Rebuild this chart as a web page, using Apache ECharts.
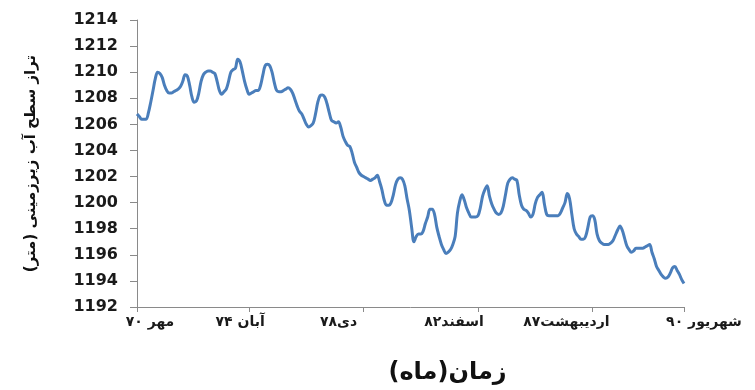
<!DOCTYPE html>
<html>
<head>
<meta charset="utf-8">
<script src="https://cdn.jsdelivr.net/npm/echarts@6/dist/echarts.min.js"></script>
<style>
  html, body { margin: 0; padding: 0; background: #ffffff; }
  #chart { width: 755px; height: 390px; }
</style>
</head>
<body>
<div id="chart"></div>
<script>
// Monthly groundwater level (m a.s.l.), from مهر ۷۰ to شهریور ۹۰ (240 months)
const level = [
  1206.8, 1206.6, 1206.4, 1206.4, 1206.4, 1206.9, 1207.7, 1208.6, 1209.5, 1210.0, 1209.9, 1209.6,
  1209.0, 1208.6, 1208.4, 1208.4, 1208.5, 1208.6, 1208.7, 1208.9, 1209.3, 1209.8, 1209.7, 1209.0,
  1208.1, 1207.7, 1207.8, 1208.4, 1209.3, 1209.8, 1210.0, 1210.1, 1210.1, 1210.0, 1209.9, 1209.3,
  1208.6, 1208.3, 1208.5, 1208.7, 1209.3, 1210.0, 1210.2, 1210.3, 1211.0, 1210.8, 1210.1, 1209.3,
  1208.7, 1208.3, 1208.4, 1208.5, 1208.6, 1208.6, 1209.0, 1209.8, 1210.5, 1210.6, 1210.5, 1210.0,
  1209.2, 1208.6, 1208.5, 1208.5, 1208.6, 1208.7, 1208.8, 1208.7, 1208.4, 1207.9, 1207.4, 1207.0,
  1206.8, 1206.4, 1206.0, 1205.8, 1205.9, 1206.1, 1206.8, 1207.7, 1208.2, 1208.25, 1208.1, 1207.6,
  1206.9, 1206.3, 1206.2, 1206.1, 1206.2, 1205.8, 1205.1, 1204.7, 1204.4, 1204.3, 1203.8, 1203.1,
  1202.7, 1202.3, 1202.1, 1202.0, 1201.9, 1201.8, 1201.7, 1201.8, 1201.9, 1202.1, 1201.6, 1201.0,
  1200.2, 1199.8, 1199.8, 1200.0, 1200.6, 1201.4, 1201.8, 1201.9, 1201.8, 1201.3, 1200.3, 1199.4,
  1198.1, 1197.0, 1197.4, 1197.6, 1197.6, 1197.8, 1198.4, 1198.9, 1199.5, 1199.5, 1199.1, 1198.1,
  1197.4, 1196.8, 1196.4, 1196.1, 1196.2, 1196.4, 1196.8, 1197.4, 1199.2, 1200.1, 1200.6, 1200.2,
  1199.6, 1199.2, 1198.9, 1198.9, 1198.9, 1199.0, 1199.6, 1200.5, 1201.0, 1201.3, 1200.5, 1199.9,
  1199.5, 1199.2, 1199.1, 1199.2, 1199.7, 1200.6, 1201.5, 1201.8, 1201.9, 1201.8, 1201.7, 1200.6,
  1199.8, 1199.5, 1199.4, 1199.2, 1198.9, 1199.1, 1199.9, 1200.4, 1200.6, 1200.8, 1199.9, 1199.1,
  1199.0, 1199.0, 1199.0, 1199.0, 1199.0, 1199.2, 1199.6, 1200.0, 1200.7, 1200.3, 1199.1, 1198.0,
  1197.6, 1197.4, 1197.2, 1197.2, 1197.4, 1198.1, 1198.9, 1199.0, 1198.7, 1197.6, 1197.1, 1196.9,
  1196.8, 1196.8, 1196.8, 1196.9, 1197.1, 1197.5, 1197.9, 1198.2, 1197.9, 1197.3, 1196.7, 1196.4,
  1196.2, 1196.3, 1196.5, 1196.5, 1196.5, 1196.5, 1196.6, 1196.7, 1196.8, 1196.2, 1195.7, 1195.1,
  1194.8, 1194.5, 1194.3, 1194.2, 1194.3, 1194.6, 1195.0, 1195.1, 1194.8, 1194.5, 1194.1, 1193.8
];

// Month index of each labelled tick and its label
const tickIndex = [0, 49, 99, 149, 199, 239];
const tickLabels = ['مهر ۷۰', 'آبان ۷۴', 'دی۷۸', 'اسفند۸۲', 'اردیبهشت۸۷', 'شهریور ۹۰'];

// Value axis range
const yMin = 1192;
const yMax = 1214;
const yStep = 2;

const yAxisTitle = 'تراز سطح آب زیرزمینی (متر)';
const xAxisTitle = 'زمان(ماه)';

// ---- presentation ----
const RLM = '\u200F';
const months = level.map((_, i) => String(i));
const tickSet = new Set(tickIndex);
// horizontal nudge of each tick label (px, + = right)
const labelNudge = [13, -9, -25, -24, -26, 20];

const FONT = "'DejaVu Sans', 'Liberation Sans', sans-serif";
const AXIS_GREY = '#8a8a8a';

const rich = {};
labelNudge.forEach((d, k) => {
  rich['t' + k] = {
    fontFamily: FONT, fontWeight: 'bold', fontSize: 14, color: '#1a1a1a',
    padding: d >= 0 ? [0, 0, 0, 2 * d] : [0, -2 * d, 0, 0]
  };
});

const chart = echarts.init(document.getElementById('chart'), null, { renderer: 'canvas' });
chart.setOption({
  animation: false,
  backgroundColor: '#ffffff',
  grid: { left: 137, right: 71, top: 20, bottom: 79, containLabel: false },
  xAxis: {
    type: 'category',
    data: months,
    boundaryGap: false,
    axisLine: { lineStyle: { color: AXIS_GREY, width: 1 } },
    axisTick: {
      show: true, length: 5, inside: false,
      interval: (i) => tickSet.has(i),
      lineStyle: { color: AXIS_GREY }
    },
    axisLabel: {
      interval: (i) => tickSet.has(i),
      margin: 8,
      formatter: (v) => {
        const k = tickIndex.indexOf(Number(v));
        return k < 0 ? '' : '{t' + k + '|' + RLM + tickLabels[k] + RLM + '}';
      },
      rich: rich
    },
    splitLine: { show: false },
    name: RLM + xAxisTitle + RLM,
    nameLocation: 'middle',
    nameGap: 54,
    nameTextStyle: {
      fontFamily: FONT, fontWeight: 'bold', fontSize: 24, color: '#111111',
      padding: [0, 0, 0, 74]
    }
  },
  yAxis: {
    type: 'value',
    min: yMin, max: yMax, interval: yStep,
    axisLine: { show: true, lineStyle: { color: AXIS_GREY, width: 1 } },
    axisTick: { show: true, length: 7, inside: false, lineStyle: { color: AXIS_GREY } },
    axisLabel: {
      margin: 19,
      formatter: (v) => String(v),
      fontFamily: FONT, fontWeight: 'bold', fontSize: 16, color: '#1a1a1a'
    },
    splitLine: { show: false },
    name: RLM + yAxisTitle + RLM,
    nameLocation: 'middle',
    nameRotate: 90,
    nameGap: 98,
    nameTextStyle: {
      fontFamily: FONT, fontWeight: 'bold', fontSize: 15, color: '#111111'
    }
  },
  series: [{
    type: 'line',
    data: level,
    smooth: 0.35,
    showSymbol: false,
    symbol: 'none',
    lineStyle: { color: '#4a7ebb', width: 3 },
    itemStyle: { color: '#4a7ebb' }
  }]
});
</script>
</body>
</html>
